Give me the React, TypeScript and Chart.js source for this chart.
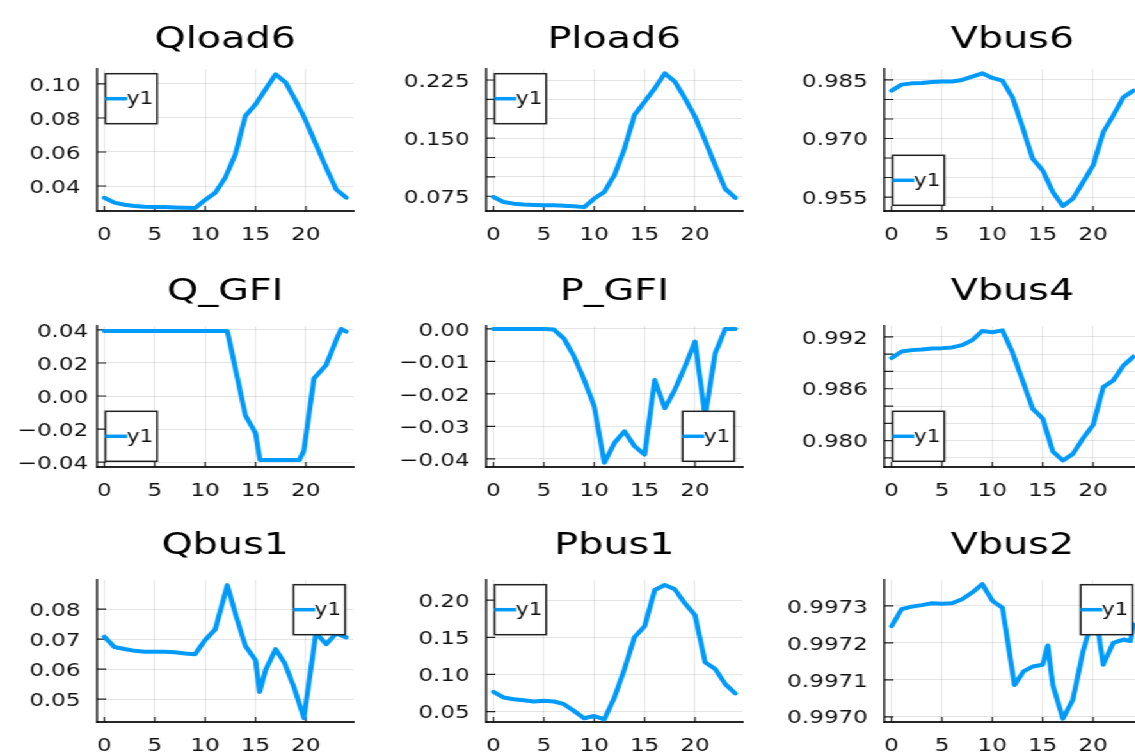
import React, { useEffect, useRef } from "react";
import { Chart, registerables } from "chart.js";

Chart.register(...registerables);

// ---------------- data ----------------
const hours = [0, 1, 2, 3, 4, 5, 6, 7, 8, 9, 10, 11, 12, 13, 14, 15, 16, 17, 18, 19, 20, 21, 22, 23, 24];
const xTicks = [0, 5, 10, 15, 20];
const X_MIN = -0.7;
const X_MAX = 24.7;

const qload6 = [0.0331, 0.0302, 0.029, 0.0283, 0.0278, 0.0276, 0.0276, 0.0274, 0.0272, 0.027, 0.0318, 0.036, 0.0449, 0.0586, 0.0812, 0.088, 0.0969, 0.1057, 0.1008, 0.09, 0.0782, 0.0645, 0.0508, 0.038, 0.0331];
const qload6Ticks = [0.04, 0.06, 0.08, 0.1];

const pload6 = [0.074, 0.0676, 0.0655, 0.0645, 0.0638, 0.0633, 0.0633, 0.0628, 0.062, 0.061, 0.072, 0.0806, 0.1022, 0.1367, 0.18, 0.197, 0.2142, 0.2336, 0.2228, 0.2013, 0.1776, 0.147, 0.1148, 0.0846, 0.0729];
const pload6Ticks = [0.075, 0.1, 0.125, 0.15, 0.175, 0.2, 0.225];
const pload6Labels = [0.075, 0.15, 0.225];

const vbus6 = [0.98227, 0.9838, 0.98413, 0.9842, 0.98449, 0.9846, 0.9846, 0.985, 0.98585, 0.9867, 0.98551, 0.98483, 0.98056, 0.9729, 0.96482, 0.96183, 0.95629, 0.9527, 0.9546, 0.9588, 0.9631, 0.9716, 0.9759, 0.98056, 0.98227];
const vbus6Ticks = [0.955, 0.96, 0.965, 0.97, 0.975, 0.98, 0.985];
const vbus6Labels = [0.955, 0.97, 0.985];

const qgfiX = [0, 12.2, 14, 15, 15.45, 19.35, 19.8, 20.8, 22, 23, 23.5, 24];
const qgfiY = [0.0394, 0.0394, -0.0118, -0.0225, -0.0388, -0.0388, -0.033, 0.0106, 0.0187, 0.0339, 0.0406, 0.039];
const qgfiTicks = [-0.04, -0.02, 0, 0.02, 0.04];

const pgfi = [0, 0, 0, 0, 0, 0, -0.0002, -0.003, -0.0085, -0.0157, -0.0238, -0.0412, -0.0351, -0.0315, -0.0361, -0.0387, -0.0157, -0.0244, -0.0187, -0.0116, -0.0039, -0.027, -0.0075, 0, 0];
const pgfiTicks = [-0.04, -0.03, -0.02, -0.01, 0];

const vbus4 = [0.98955, 0.99032, 0.99047, 0.99055, 0.99066, 0.9907, 0.99078, 0.99104, 0.99162, 0.99269, 0.99254, 0.99276, 0.9902, 0.98696, 0.9837, 0.98256, 0.97874, 0.97771, 0.97847, 0.98027, 0.9818, 0.98619, 0.98696, 0.98868, 0.98971];
const vbus4Ticks = [0.978, 0.98, 0.982, 0.984, 0.986, 0.988, 0.99, 0.992];
const vbus4Labels = [0.98, 0.986, 0.992];

const qbus1X = [0, 1, 2, 3, 4, 5, 6, 7, 8, 9, 10, 11, 12.2, 13.1, 14, 15, 15.4, 16, 17, 17.9, 18.8, 19.8, 21, 22, 23, 24];
const qbus1Y = [0.0708, 0.0674, 0.0667, 0.0661, 0.0658, 0.0658, 0.0658, 0.0656, 0.0652, 0.065, 0.0697, 0.0732, 0.088, 0.0774, 0.0677, 0.063, 0.0524, 0.0597, 0.0667, 0.0619, 0.0541, 0.0437, 0.0722, 0.0683, 0.0719, 0.0706];
const qbus1Ticks = [0.05, 0.06, 0.07, 0.08];

const pbus1 = [0.0767, 0.069, 0.0667, 0.0654, 0.0636, 0.0645, 0.0636, 0.06, 0.0509, 0.041, 0.0441, 0.0396, 0.069, 0.1074, 0.1503, 0.1648, 0.2136, 0.2203, 0.2145, 0.1955, 0.1797, 0.1164, 0.1074, 0.087, 0.0744];
const pbus1Ticks = [0.05, 0.1, 0.15, 0.2];

const vbus2X = [0, 1, 2, 3, 4, 5, 6, 7, 8, 9, 10, 11, 12.2, 13.1, 14, 15, 15.5, 16, 17, 18, 19, 20.2, 21, 22, 23, 23.7, 24];
const vbus2Y = [0.997245, 0.997291, 0.997298, 0.997302, 0.997307, 0.997306, 0.997307, 0.997318, 0.997336, 0.997359, 0.997314, 0.997295, 0.997086, 0.997123, 0.997136, 0.997141, 0.997193, 0.997086, 0.996995, 0.997047, 0.997177, 0.99729, 0.997141, 0.9972, 0.997209, 0.997205, 0.99725];
const vbus2Ticks = [0.997, 0.9971, 0.9972, 0.9973];

// ---------------- layout / style ----------------
const S = 1.28; // horizontal stretch of the whole figure
const COL_L = [97, 486, 884.3];
const PLOT_W = 256;
const ROW_T = [68.5, 326, 580];
const ROW_B = [210.5, 467, 721.5];
const TITLE_BASE = [47.5, 299.5, 554];
const PADL = 80;
const PADR = 4;
const PADT = 70;
const PADB = 40;
const LINE_COLOR = "#009AFA";
const AXIS_COLOR = "rgba(0,0,0,0.85)";
const GRID_COLOR = "rgba(0,0,0,0.1)";
const TEXT_COLOR = "#111";
const FONT = '"DejaVu Sans"';

type Corner = "tl" | "tr" | "bl" | "br";
type Cfg = {
  title: string;
  xs: number[];
  ys: number[];
  yMin: number;
  yMax: number;
  ticks: number[];
  labels: number[];
  dec: number;
  col: number;
  row: number;
  legend: Corner;
  labelPad?: number;
};

const panels: Cfg[] = [
  { title: "Qload6", xs: hours, ys: qload6, yMin: 0.0253, yMax: 0.1088, ticks: qload6Ticks, labels: qload6Ticks, dec: 2, col: 0, row: 0, legend: "tl" },
  { title: "Pload6", xs: hours, ys: pload6, yMin: 0.056, yMax: 0.2392, ticks: pload6Ticks, labels: pload6Labels, dec: 3, col: 1, row: 0, legend: "tl" },
  { title: "Vbus6", xs: hours, ys: vbus6, yMin: 0.95142, yMax: 0.98781, ticks: vbus6Ticks, labels: vbus6Labels, dec: 3, col: 2, row: 0, legend: "bl" },
  { title: "Q_GFI", xs: qgfiX, ys: qgfiY, yMin: -0.043, yMax: 0.0424, ticks: qgfiTicks, labels: qgfiTicks, dec: 2, col: 0, row: 1, legend: "bl", labelPad: 7 },
  { title: "P_GFI", xs: hours, ys: pgfi, yMin: -0.0425, yMax: 0.0009, ticks: pgfiTicks, labels: pgfiTicks, dec: 2, col: 1, row: 1, legend: "br" },
  { title: "Vbus4", xs: hours, ys: vbus4, yMin: 0.97695, yMax: 0.99326, ticks: vbus4Ticks, labels: vbus4Labels, dec: 3, col: 2, row: 1, legend: "bl" },
  { title: "Qbus1", xs: qbus1X, ys: qbus1Y, yMin: 0.0424, yMax: 0.0897, ticks: qbus1Ticks, labels: qbus1Ticks, dec: 2, col: 0, row: 2, legend: "tr" },
  { title: "Pbus1", xs: hours, ys: pbus1, yMin: 0.036, yMax: 0.2271, ticks: pbus1Ticks, labels: pbus1Ticks, dec: 2, col: 1, row: 2, legend: "tl" },
  { title: "Vbus2", xs: vbus2X, ys: vbus2Y, yMin: 0.996986, yMax: 0.99737, ticks: vbus2Ticks, labels: vbus2Ticks, dec: 4, col: 2, row: 2, legend: "tr" },
];

function fmt(v: number, dec: number) {
  const s = Math.abs(v).toFixed(dec);
  return v < -1e-12 ? "\u2212" + s : s;
}

function Panel({ cfg }: { cfg: Cfg }) {
  const ref = useRef<HTMLCanvasElement>(null);
  const left = Math.round(COL_L[cfg.col] / S) - PADL;
  const top = Math.round(ROW_T[cfg.row]) - PADT;
  const plotW = Math.round(PLOT_W / S);
  const plotH = Math.round(ROW_B[cfg.row] - ROW_T[cfg.row]);
  const w = plotW + PADL + PADR;
  const h = plotH + PADT + PADB;

  useEffect(() => {
    const canvas = ref.current;
    if (!canvas) return;
    const titleDy = TITLE_BASE[cfg.row] - ROW_T[cfg.row];
    const decor = {
      id: "decor",
      beforeDatasetsDraw(chart: any) {
        const { ctx, chartArea: a, scales } = chart;
        ctx.save();
        ctx.strokeStyle = AXIS_COLOR;
        ctx.lineWidth = 1.2;
        ctx.beginPath();
        for (const t of scales.y.ticks) {
          const py = scales.y.getPixelForValue(t.value);
          ctx.moveTo(a.left, py);
          ctx.lineTo(a.left + 7, py);
        }
        for (const t of scales.x.ticks) {
          const px = scales.x.getPixelForValue(t.value);
          ctx.moveTo(px, a.bottom);
          ctx.lineTo(px, a.bottom - 5);
        }
        ctx.stroke();
        ctx.restore();
      },
      afterDatasetsDraw(chart: any) {
        const { ctx, chartArea: a } = chart;
        ctx.save();
        // title
        ctx.fillStyle = "#000";
        ctx.font = `31px ${FONT}`;
        ctx.textAlign = "center";
        ctx.textBaseline = "alphabetic";
        ctx.fillText(cfg.title, (a.left + a.right) / 2, a.top + titleDy);
        // legend
        const bw = 40.3;
        const bh = 50;
        const hOff = 6.4;
        let bx = a.left + hOff;
        let by = a.top + 4.7;
        if (cfg.legend === "tr" || cfg.legend === "br") bx = a.right - hOff - bw;
        if (cfg.legend === "bl" || cfg.legend === "br") by = a.bottom - 5.7 - bh;
        ctx.fillStyle = "#fff";
        ctx.fillRect(bx, by, bw, bh);
        ctx.strokeStyle = "#222";
        ctx.lineWidth = 1.5;
        ctx.strokeRect(bx, by, bw, bh);
        const cy = by + bh / 2;
        ctx.strokeStyle = LINE_COLOR;
        ctx.lineWidth = 3.5;
        ctx.beginPath();
        ctx.moveTo(bx, cy);
        ctx.lineTo(bx + 17, cy);
        ctx.stroke();
        ctx.fillStyle = TEXT_COLOR;
        ctx.font = `17px ${FONT}`;
        ctx.textAlign = "left";
        ctx.textBaseline = "middle";
        ctx.fillText("y1", bx + 16.5, cy + 1);
        ctx.restore();
      },
    };

    const chart = new Chart(canvas, {
      type: "line",
      data: {
        datasets: [
          {
            label: "y1",
            data: cfg.xs.map((x, i) => ({ x, y: cfg.ys[i] })),
            borderColor: LINE_COLOR,
            borderWidth: 4,
            pointRadius: 0,
            tension: 0,
            fill: false,
            borderJoinStyle: "round",
            borderCapStyle: "round",
          },
        ],
      },
      options: {
        responsive: false,
        animation: false,
        devicePixelRatio: 1,
        events: [],
        layout: { padding: { top: PADT, right: PADR, left: 0, bottom: 0 } },
        plugins: { legend: { display: false }, tooltip: { enabled: false }, title: { display: false } },
        scales: {
          x: {
            type: "linear",
            min: X_MIN,
            max: X_MAX,
            bounds: "data",
            afterBuildTicks: (sc: any) => {
              sc.ticks = xTicks.map((v) => ({ value: v }));
            },
            afterFit: (sc: any) => {
              sc.height = PADB;
            },
            ticks: {
              autoSkip: false,
              maxRotation: 0,
              minRotation: 0,
              padding: 14,
              color: TEXT_COLOR,
              font: { size: 18, family: FONT },
              callback: (v: any) => String(v),
            },
            grid: { color: GRID_COLOR, lineWidth: 1, drawTicks: false },
            border: { display: true, color: AXIS_COLOR, width: 2 },
          },
          y: {
            type: "linear",
            min: cfg.yMin,
            max: cfg.yMax,
            bounds: "data",
            afterBuildTicks: (sc: any) => {
              sc.ticks = cfg.ticks.map((v) => ({ value: v }));
            },
            afterFit: (sc: any) => {
              sc.width = PADL;
            },
            ticks: {
              autoSkip: false,
              padding: cfg.labelPad ?? 13,
              labelOffset: 2,
              color: TEXT_COLOR,
              font: { size: 18, family: FONT },
              callback: (v: any) => {
                const n = Number(v);
                return cfg.labels.some((l) => Math.abs(l - n) < 1e-9) ? fmt(n, cfg.dec) : "";
              },
            },
            grid: { color: GRID_COLOR, lineWidth: 1, drawTicks: false },
            border: { display: true, color: AXIS_COLOR, width: 1.6 },
          },
        },
      },
      plugins: [decor],
    } as any);
    return () => chart.destroy();
  }, []);

  return (
    <canvas
      ref={ref}
      width={w}
      height={h}
      style={{ position: "absolute", left, top, width: w, height: h }}
    />
  );
}

export default function App() {
  return (
    <div
      style={{
        position: "absolute",
        left: 0,
        top: 0,
        width: 1135,
        height: 753,
        overflow: "hidden",
        background: "#fff",
      }}
    >
      <div
        style={{
          position: "absolute",
          left: 0,
          top: 0,
          width: 1135 / S,
          height: 753,
          transform: `scaleX(${S})`,
          transformOrigin: "0 0",
        }}
      >
        {panels.map((p) => (
          <Panel key={p.title} cfg={p} />
        ))}
      </div>
    </div>
  );
}
